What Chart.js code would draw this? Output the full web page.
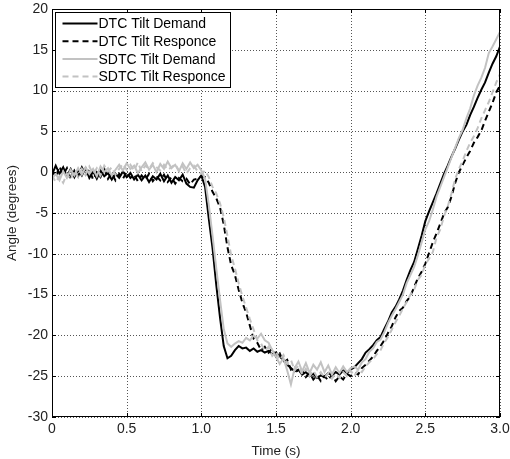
<!DOCTYPE html>
<html>
<head>
<meta charset="utf-8">
<script src="https://cdn.jsdelivr.net/npm/chart.js@4.4.1/dist/chart.umd.min.js"></script>
<style>
  html, body { margin: 0; padding: 0; background: #fff; }
  #wrap { width: 510px; height: 459px; }
</style>
</head>
<body>
<div id="wrap"><canvas id="chart" width="510" height="459"></canvas></div>
<script>
// Time axis (s)
const time = [
  0, 0.025, 0.05, 0.075, 0.1, 0.125, 0.15, 0.175, 0.2, 0.225,
  0.25, 0.275, 0.3, 0.325, 0.35, 0.375, 0.4, 0.425, 0.45, 0.475,
  0.5, 0.525, 0.55, 0.575, 0.6, 0.625, 0.65, 0.675, 0.7, 0.725,
  0.75, 0.775, 0.8, 0.825, 0.85, 0.875, 0.9, 0.925, 0.95, 0.975,
  1.0, 1.025, 1.05, 1.075, 1.1, 1.125, 1.15, 1.175, 1.2, 1.225,
  1.25, 1.275, 1.3, 1.325, 1.35, 1.375, 1.4, 1.425, 1.45, 1.475,
  1.5, 1.525, 1.55, 1.575, 1.6, 1.625, 1.65, 1.675, 1.7, 1.725,
  1.75, 1.775, 1.8, 1.825, 1.85, 1.875, 1.9, 1.925, 1.95, 1.975,
  2.0, 2.025, 2.05, 2.075, 2.1, 2.125, 2.15, 2.175, 2.2, 2.225,
  2.25, 2.275, 2.3, 2.325, 2.35, 2.375, 2.4, 2.425, 2.45, 2.475,
  2.5, 2.525, 2.55, 2.575, 2.6, 2.625, 2.65, 2.675, 2.7, 2.725,
  2.75, 2.775, 2.8, 2.825, 2.85, 2.875, 2.9, 2.925, 2.95, 2.975,
  3.0
];

// Angle (degrees)
const dtcDemand = [
  -0.3, 0.8, -0.2, 0.6, -0.5, 0.4, -0.6, 0.3, -0.4, 0.5,
  -0.7, 0.1, -0.8, 0.2, -0.5, -0.1, -0.9, -0.2, -0.7, 0.1,
  -0.6, -0.1, -0.9, -0.3, -1.0, -0.4, -1.2, -0.5, -0.9, -0.2,
  -1.1, -0.4, -1.3, -0.6, -1.0, -0.3, -1.4, -1.8, -1.9, -1.0,
  -0.4, -1.8, -5.7, -9.3, -13.8, -17.8, -21.3, -22.8, -22.5, -21.8,
  -21.3, -21.6, -21.5, -21.9, -21.6, -22.0, -21.8, -22.1, -21.9, -22.3,
  -22.1, -22.6, -23.0, -23.6, -24.0, -24.4, -24.2, -24.8, -24.5, -25.0,
  -24.7, -25.2, -24.9, -25.1, -24.6, -24.9, -24.5, -24.8, -24.3, -24.6,
  -24.2, -23.9, -23.4, -22.9, -22.1, -21.7, -21.2, -20.6, -20.2, -19.2,
  -18.3, -17.2, -16.5, -15.6, -14.5, -13.2, -12.0, -11.0, -9.4, -7.8,
  -6.0, -4.8, -3.7, -2.6, -1.4, -0.2, 0.8, 1.9, 2.9, 4.0,
  5.0, 5.8, 7.0, 8.0, 9.1, 10.1, 11.0, 12.2, 13.3, 14.2,
  15.4
];

const dtcResponse = [
  0.2, -0.6, 0.7, -0.3, 0.5, -0.8, 0.2, -0.5, 0.6, -0.3,
  0.3, -0.9, 0.0, -0.6, 0.4, -0.8, -0.1, -1.0, -0.2, -0.8,
  0.0, -0.7, -0.3, -1.1, -0.4, -0.9, -0.2, -1.1, -0.5, -1.0,
  -0.3, -1.2, -0.6, -1.4, -0.7, -1.1, -0.8, -1.5, -0.9, -0.8,
  -0.5, -0.6, -1.3, -2.4, -3.2, -4.3, -6.4, -9.2, -11.4, -12.6,
  -14.4, -16.0, -17.2, -18.8, -20.4, -20.9, -21.8, -21.4, -22.1, -21.6,
  -22.6, -22.2, -23.3, -23.0, -24.2, -23.8, -24.7, -24.3, -25.1, -24.6,
  -25.4, -24.9, -25.6, -25.0, -25.5, -24.8, -25.6, -25.0, -25.4, -24.7,
  -25.0, -24.6, -24.8, -24.0, -23.6, -23.1, -22.6, -21.9, -21.3, -20.6,
  -19.7, -18.9, -17.8, -17.0, -16.6, -15.8, -15.2, -14.1, -13.0, -12.2,
  -11.2, -9.9, -8.6, -7.5, -6.3, -5.1, -4.3, -3.0, -1.3, 0.0,
  0.9, 1.8, 2.6, 3.6, 4.3, 5.1, 6.3, 7.4, 8.5, 9.8,
  10.6
];

const sdtcDemand = [
  -0.8, -0.2, -1.0, 0.1, -0.7, 0.3, -0.4, 0.5, -0.3, 0.6,
  -0.2, 0.4, -0.5, 0.7, 0.0, 0.5, -0.4, 0.3, 0.9, 0.2,
  1.1, 0.4, 0.8, -0.1, 0.6, 1.2, 0.3, 0.9, 0.0, 1.0,
  0.4, 1.3, 0.5, 0.9, 0.1, 1.1, 0.4, 1.2, 0.5, 0.9,
  0.2, -0.8, -4.0, -7.8, -11.8, -15.6, -19.2, -21.0, -21.4, -21.0,
  -20.7, -20.9, -20.3, -20.6, -20.0, -20.4, -19.8, -20.6, -20.9, -21.8,
  -22.6, -23.5, -22.8, -24.3, -26.0, -24.0, -23.2, -24.4, -23.4, -24.6,
  -23.6, -24.2, -23.3, -24.5, -23.7, -24.8, -23.9, -24.6, -23.8, -24.5,
  -24.0, -23.8, -24.2, -23.3, -22.9, -22.0, -21.6, -20.8, -20.5, -19.6,
  -18.5, -17.6, -16.8, -15.9, -15.0, -13.6, -12.6, -11.6, -10.2, -8.6,
  -7.0, -6.0, -4.6, -3.0, -1.8, -0.6, 0.6, 1.8, 3.0, 4.2,
  5.2, 6.6, 7.8, 9.4, 10.6, 11.6, 12.8, 14.6, 15.4, 16.3,
  17.2
];

const sdtcResponse = [
  -0.4, -1.2, -0.5, -1.3, -0.2, -0.9, 0.2, -0.6, 0.4, -0.3,
  0.7, -0.2, 0.5, -0.4, 0.8, 0.1, 0.6, -0.3, 0.4, 1.0,
  0.3, 0.9, 0.2, 1.2, 0.1, 0.8, 0.4, 1.1, 0.6, 0.2,
  0.9, 0.3, 0.6, 1.0, 0.2, 0.7, -0.2, 0.5, 0.8, 0.1,
  -0.2, 0.2, -0.6, -1.8, -2.6, -3.8, -5.5, -7.8, -10.2, -11.8,
  -13.6, -15.2, -16.6, -18.0, -19.3, -20.6, -21.0, -21.9, -21.4, -22.5,
  -22.0, -23.0, -22.4, -23.5, -23.0, -24.3, -23.7, -24.8, -24.1, -25.0,
  -24.3, -25.1, -24.5, -25.2, -24.6, -25.3, -24.7, -25.2, -24.5, -25.0,
  -24.3, -25.0, -24.2, -24.5, -23.8, -23.3, -22.9, -22.3, -21.8, -20.9,
  -20.2, -19.3, -18.4, -17.6, -16.7, -15.9, -15.0, -14.4, -13.2, -12.6,
  -11.3, -10.6, -9.8, -8.0, -7.0, -5.4, -4.2, -2.6, -0.8, 0.4,
  1.4, 2.6, 3.6, 4.4, 5.4, 6.6, 7.6, 8.6, 9.8, 11.0,
  12.0
];

const seriesNames = ['DTC Tilt Demand', 'DTC Tilt Responce', 'SDTC Tilt Demand', 'SDTC Tilt Responce'];

const FONT = 'Arial, "Liberation Sans", Helvetica, sans-serif';
const BLACK = '#000000';
const GREY = '#c2c2c2';
const DASH = [6, 4];

const toPoints = ys => ys.map((y, i) => ({ x: time[i], y: y }));

function makeSet(label, ys, color, dash, order) {
  return {
    label: label,
    data: toPoints(ys),
    borderColor: color,
    backgroundColor: color,
    borderWidth: 2,
    borderDash: dash,
    pointRadius: 0,
    tension: 0,
    fill: false,
    order: order
  };
}

// Dotted grid under the data (MATLAB "grid on" look)
const gridPlugin = {
  id: 'dottedGrid',
  beforeDatasetsDraw(chart) {
    const { ctx, chartArea: a, scales } = chart;
    ctx.save();
    ctx.strokeStyle = '#555';
    ctx.lineWidth = 1;
    ctx.setLineDash([1, 2]);
    ctx.beginPath();
    scales.x.ticks.forEach(t => {
      const px = Math.round(scales.x.getPixelForValue(t.value)) + 0.5;
      ctx.moveTo(px, a.top); ctx.lineTo(px, a.bottom);
    });
    scales.y.ticks.forEach(t => {
      const py = Math.round(scales.y.getPixelForValue(t.value)) + 0.5;
      ctx.moveTo(a.left, py); ctx.lineTo(a.right, py);
    });
    ctx.stroke();
    ctx.restore();
  }
};

// Frame, inward tick marks and the boxed legend
const framePlugin = {
  id: 'frame',
  afterDatasetsDraw(chart) {
    const { ctx, chartArea: a, scales } = chart;
    ctx.save();
    ctx.strokeStyle = '#000';
    ctx.lineWidth = 1;
    ctx.setLineDash([]);
    ctx.strokeRect(a.left + 0.5, a.top + 0.5, a.right - a.left - 1, a.bottom - a.top - 1);

    const tick = 4;
    ctx.beginPath();
    scales.x.ticks.forEach(t => {
      const px = Math.round(scales.x.getPixelForValue(t.value)) + 0.5;
      ctx.moveTo(px, a.bottom); ctx.lineTo(px, a.bottom - tick);
      ctx.moveTo(px, a.top); ctx.lineTo(px, a.top + tick);
    });
    scales.y.ticks.forEach(t => {
      const py = Math.round(scales.y.getPixelForValue(t.value)) + 0.5;
      ctx.moveTo(a.left, py); ctx.lineTo(a.left + tick, py);
      ctx.moveTo(a.right, py); ctx.lineTo(a.right - tick, py);
    });
    ctx.stroke();

    // legend box
    const bx = a.left + 3.5, by = a.top + 3.5, bw = 175, bh = 75;
    ctx.fillStyle = '#fff';
    ctx.fillRect(bx, by, bw, bh);
    ctx.strokeRect(bx, by, bw, bh);
    ctx.font = '14px ' + FONT;
    ctx.textBaseline = 'middle';
    ctx.textAlign = 'left';
    chart.data.datasets.forEach((ds, i) => {
      const cy = by + 11 + i * 17.7;
      ctx.strokeStyle = ds.borderColor;
      ctx.lineWidth = 2;
      ctx.setLineDash(ds.borderDash || []);
      ctx.beginPath();
      ctx.moveTo(bx + 7, cy);
      ctx.lineTo(bx + 42, cy);
      ctx.stroke();
      ctx.setLineDash([]);
      ctx.fillStyle = '#000';
      ctx.fillText(ds.label, bx + 43, cy + 1);
    });
    ctx.restore();
  }
};

new Chart(document.getElementById('chart').getContext('2d'), {
  type: 'line',
  data: {
    datasets: [
      makeSet(seriesNames[0], dtcDemand, BLACK, [], 4),
      makeSet(seriesNames[1], dtcResponse, BLACK, DASH, 3),
      makeSet(seriesNames[2], sdtcDemand, GREY, [], 2),
      makeSet(seriesNames[3], sdtcResponse, GREY, DASH, 1)
    ]
  },
  options: {
    responsive: false,
    animation: false,
    layout: { padding: { left: 4, right: 10, top: 9, bottom: 0 } },
    plugins: {
      legend: { display: false },
      tooltip: { enabled: false }
    },
    scales: {
      x: {
        type: 'linear',
        min: 0,
        max: 3,
        grid: { display: false, drawTicks: false },
        border: { display: false },
        ticks: {
          stepSize: 0.5,
          padding: 4,
          color: '#222',
          font: { family: FONT, size: 14 },
          callback: v => (v === 0 ? '0' : v.toFixed(1))
        },
        title: {
          display: true,
          text: 'Time (s)',
          color: '#222',
          font: { family: FONT, size: 13.5 },
          padding: { top: 0, bottom: 0 }
        },
        afterFit: s => { s.height = 42; s.paddingLeft = 0; s.paddingRight = 0; }
      },
      y: {
        min: -30,
        max: 20,
        grid: { display: false, drawTicks: false },
        border: { display: false },
        ticks: {
          stepSize: 5,
          padding: 4,
          color: '#222',
          font: { family: FONT, size: 14 }
        },
        title: {
          display: true,
          text: 'Angle (degrees)',
          color: '#222',
          font: { family: FONT, size: 13.5 },
          padding: { top: 0, bottom: 0 }
        },
        afterFit: s => { s.width = 48; s.paddingTop = 0; s.paddingBottom = 0; }
      }
    }
  },
  plugins: [gridPlugin, framePlugin]
});
</script>
</body>
</html>
